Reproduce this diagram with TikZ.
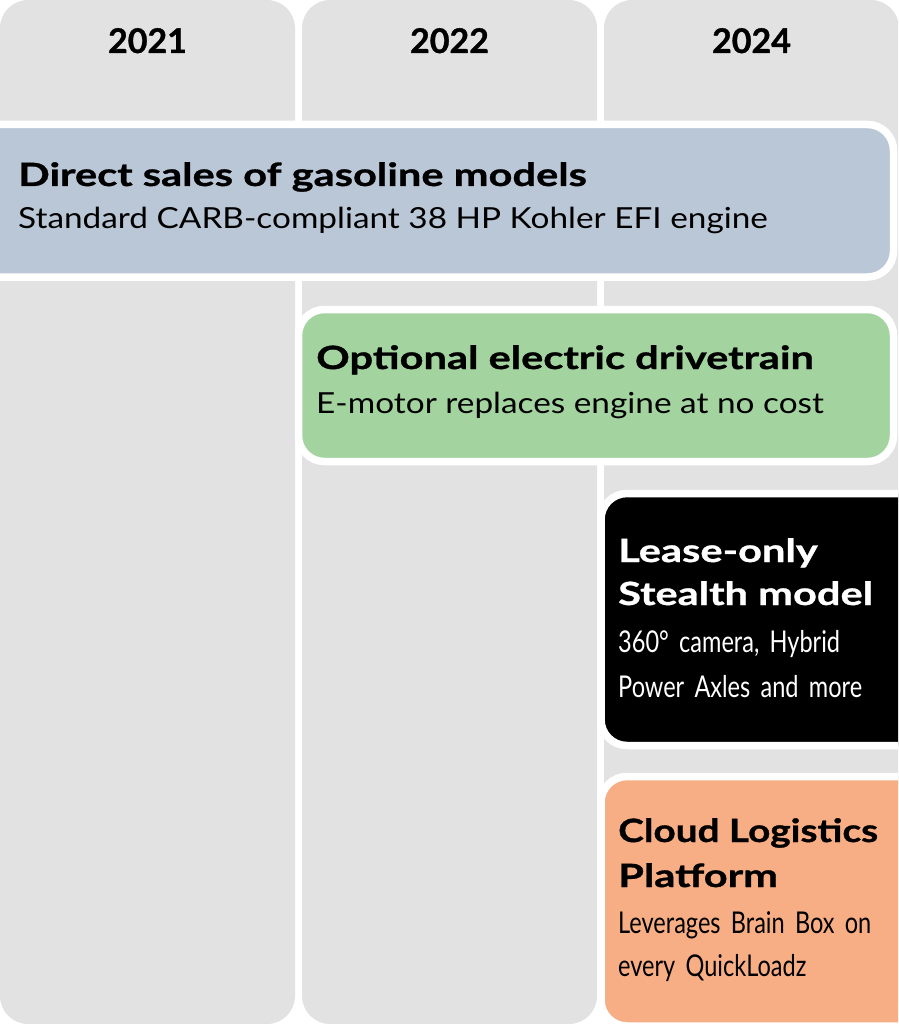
\documentclass[tikz,border=0pt]{standalone}
\usepackage{fontspec}
\setmainfont{Lato}
\newfontfamily\ttlfont[FakeStretch=1.3, BoldFeatures={FakeBold=1}]{Lato}
\newfontfamily\ttlnarrowfont[FakeStretch=1.21, BoldFeatures={FakeBold=1}]{Lato}
\newfontfamily\yearfont[BoldFeatures={FakeBold=1}]{Lato}
\newfontfamily\subfont[FakeStretch=1.15]{Lato}
\newfontfamily\condfont[FakeStretch=0.785, WordSpace=1.7]{Lato}
\definecolor{colgray}{HTML}{E2E2E2}
\definecolor{barblue}{HTML}{BAC7D6}
\definecolor{bargreen}{HTML}{A3D49F}
\definecolor{barorange}{HTML}{F8AE85}
\tikzset{
  colbox/.style={fill=colgray, rounded corners=28pt, inner sep=0pt, minimum width=295pt, minimum height=1024pt},
  bar/.style={draw=white, line width=7.5pt, rounded corners=26pt, inner sep=0pt},
  year/.style={anchor=base, inner sep=0pt, font=\fontsize{34}{40}\selectfont\yearfont\bfseries},
  ttl/.style={anchor=base west, inner sep=0pt, font=\fontsize{32}{38}\selectfont\ttlfont\bfseries},
  ttlnarrow/.style={anchor=base west, inner sep=0pt, font=\fontsize{32}{38}\selectfont\ttlnarrowfont\bfseries},
  sub/.style={anchor=base west, inner sep=0pt, font=\fontsize{29}{35}\selectfont\subfont},
  cond/.style={anchor=base west, inner sep=0pt, font=\fontsize{30}{36}\selectfont\condfont}
}
\begin{document}
\begin{tikzpicture}[x=1pt,y=-1pt]
\useasboundingbox (0,0) rectangle (898,1024);
\clip (0,0) rectangle (898,1024);
% columns
\node[colbox] (c2021) at (147.5,512) {};
\node[colbox] (c2022) at (449.5,512) {};
\node[colbox] (c2024) at (751.5,512) {};
\node[year] (y2021) at (147.5,53) {2021};
\node[year] (y2022) at (449.5,53) {2022};
\node[year] (y2024) at (751.5,53) {2024};
% bars
\node[bar, fill=barblue, minimum width=923.5pt, minimum height=152.5pt] (direct) at (431.75,200.75) {};
\node[bar, fill=bargreen, minimum width=595pt, minimum height=152pt] (electric) at (596,385.5) {};
\node[bar, fill=black, minimum width=339pt, minimum height=252pt] (stealth) at (770.5,619.5) {};
\node[bar, fill=barorange, minimum width=339pt, minimum height=249.5pt] (cloud) at (770.5,901.25) {};
% texts
\node[ttl] (directT) at (18,186) {Direct sales of gasoline models};
\node[sub] (directS) at (18,229) {Standard CARB-compliant 38 HP Kohler EFI engine};
\node[ttl] (electricT) at (316,369) {Optional electric drivetrain};
\node[sub] (electricS) at (316,413) {E-motor replaces engine at no cost};
\node[ttl, text=white] (stealthT1) at (618,562) {Lease-only};
\node[ttl, text=white] (stealthT2) at (618,605) {Stealth model};
\node[cond, text=white] (stealthS1) at (618,652) {360° camera, Hybrid};
\node[cond, text=white] (stealthS2) at (618,697) {Power Axles and more};
\node[ttlnarrow] (cloudT1) at (618,842) {Cloud Logistics};
\node[ttl] (cloudT2) at (618,887) {Platform};
\node[cond] (cloudS1) at (618,933) {Leverages Brain Box on};
\node[cond] (cloudS2) at (618,976) {every QuickLoadz};
\end{tikzpicture}
\end{document}
